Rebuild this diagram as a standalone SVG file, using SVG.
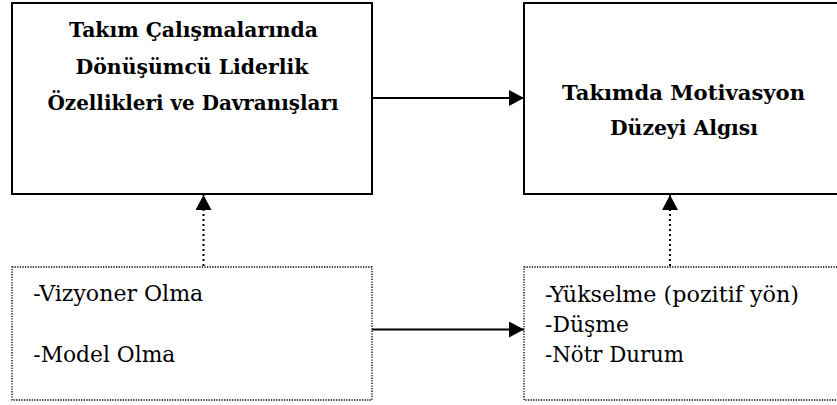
<svg xmlns="http://www.w3.org/2000/svg" width="837" height="405" viewBox="0 0 837 405">
<style>
.solid{fill:#fff;stroke:#000;stroke-width:2}
.dotbox{fill:#fff;stroke:#000;stroke-width:1.3;stroke-dasharray:1.3 1.3}
text{font-family:"DejaVu Serif","Liberation Serif",serif;font-size:21.5px;fill:#000}
.b{font-weight:bold;text-anchor:middle;font-size:21px}
.line{stroke:#000;stroke-width:2;fill:none}
.dots{stroke:#000;stroke-width:2;fill:none;stroke-dasharray:2 3}
</style>
<defs>
<marker id="ah" markerWidth="16" markerHeight="16" viewBox="0 0 16 16" refX="15" refY="8" orient="auto" markerUnits="userSpaceOnUse">
<path d="M0,0 L15,8 L0,16 Z" fill="#000"/>
</marker>
</defs>
<rect width="837" height="405" fill="#fff"/>
<g id="node-leader">
<rect class="solid" x="12" y="3" width="360" height="191"/>
<text class="b" x="193.5" y="37" textLength="249" lengthAdjust="spacingAndGlyphs">Takım Çalışmalarında</text>
<text class="b" x="192" y="73.5" textLength="233" lengthAdjust="spacingAndGlyphs">Dönüşümcü Liderlik</text>
<text class="b" x="193" y="110" textLength="291" lengthAdjust="spacingAndGlyphs">Özellikleri ve Davranışları</text>
</g>
<g id="node-motivation">
<rect class="solid" x="524" y="3" width="330" height="191"/>
<text class="b" x="683.5" y="100" textLength="243" lengthAdjust="spacingAndGlyphs">Takımda Motivasyon</text>
<text class="b" x="684" y="134.5" textLength="148" lengthAdjust="spacingAndGlyphs">Düzeyi Algısı</text>
</g>
<g id="node-behaviors">
<rect class="dotbox" x="12" y="267" width="360" height="133"/>
<text x="33.3" y="300.7" textLength="170" lengthAdjust="spacingAndGlyphs">-Vizyoner Olma</text>
<text x="33.3" y="361.7" textLength="142" lengthAdjust="spacingAndGlyphs">-Model Olma</text>
</g>
<g id="node-levels">
<rect class="dotbox" x="524" y="267" width="330" height="133"/>
<text x="545" y="301.5" textLength="254" lengthAdjust="spacingAndGlyphs">-Yükselme (pozitif yön)</text>
<text x="545" y="331.5" textLength="84" lengthAdjust="spacingAndGlyphs">-Düşme</text>
<text x="545" y="361.5" textLength="139" lengthAdjust="spacingAndGlyphs">-Nötr Durum</text>
</g>
<g id="connectors">
<line class="line" x1="372" y1="98" x2="524" y2="98" marker-end="url(#ah)"/>
<line class="line" x1="372" y1="329.5" x2="524" y2="329.5" marker-end="url(#ah)"/>
<line class="dots" x1="203.5" y1="266" x2="203.5" y2="195" marker-end="url(#ah)"/>
<line class="dots" x1="670" y1="266" x2="670" y2="195" marker-end="url(#ah)"/>
</g>
</svg>
